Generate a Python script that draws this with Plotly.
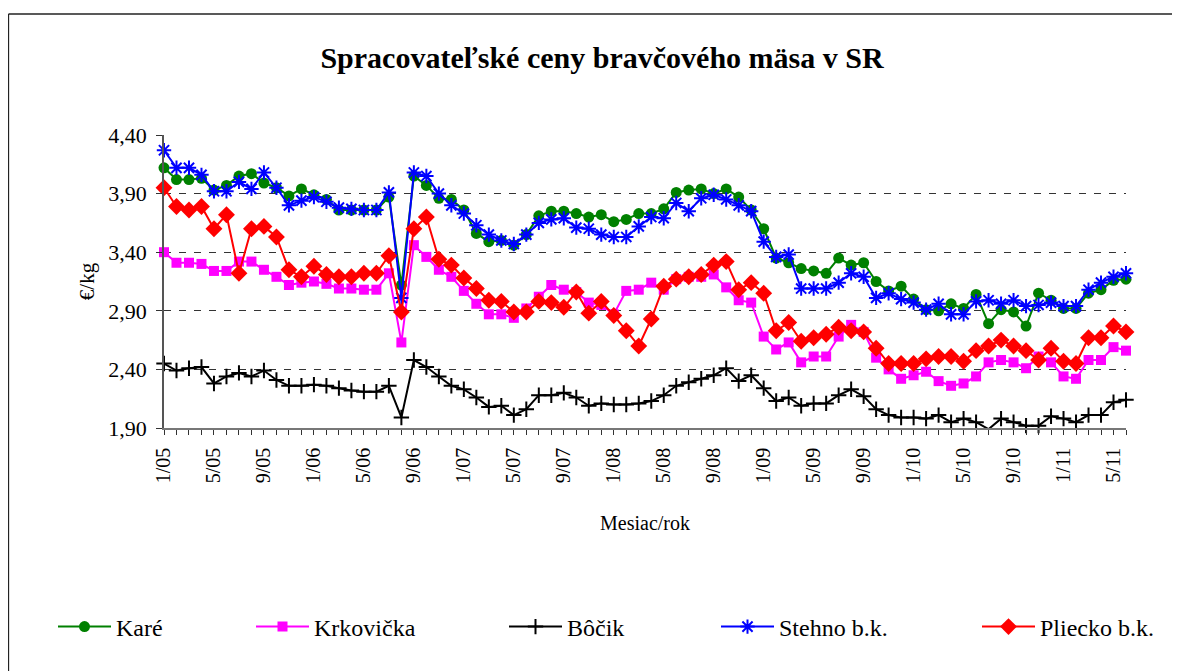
import plotly.graph_objects as go

# --- data -------------------------------------------------------------
years = ["05", "06", "07", "08", "09", "10", "11"]
months = [f"{m}/{y}" for y in years for m in range(1, 13)][:78]   # 1/05 .. 6/11

tick_labels = ["1/05", "5/05", "9/05", "1/06", "5/06", "9/06", "1/07", "5/07",
               "9/07", "1/08", "5/08", "9/08", "1/09", "5/09", "9/09", "1/10",
               "5/10", "9/10", "1/11", "5/11"]

kare = [4.12, 4.02, 4.02, 4.03, 3.93, 3.97, 4.05, 4.07, 3.99, 3.95, 3.88, 3.94,
        3.89, 3.85, 3.76, 3.76, 3.76, 3.76, 3.87, 3.12, 4.05, 3.97, 3.86, 3.85,
        3.76, 3.56, 3.49, 3.50, 3.46, 3.55, 3.71, 3.75, 3.75, 3.73, 3.70, 3.72,
        3.66, 3.68, 3.73, 3.73, 3.77, 3.91, 3.93, 3.94, 3.90, 3.94, 3.87, 3.76,
        3.60, 3.35, 3.31, 3.26, 3.24, 3.22, 3.35, 3.29, 3.31, 3.15, 3.07, 3.11,
        3.00, 2.91, 2.90, 2.96, 2.92, 3.04, 2.79, 2.91, 2.89, 2.77, 3.05, 2.99,
        2.92, 2.92, 3.05, 3.08, 3.16, 3.17]

krkovicka = [3.40, 3.31, 3.31, 3.30, 3.24, 3.24, 3.32, 3.32, 3.25, 3.19, 3.12, 3.14,
             3.15, 3.13, 3.09, 3.09, 3.08, 3.08, 3.22, 2.63, 3.46, 3.36, 3.25, 3.19,
             3.07, 2.96, 2.87, 2.87, 2.84, 2.92, 3.02, 3.12, 3.08, 3.06, 2.97, 2.95,
             2.87, 3.07, 3.08, 3.14, 3.08, 3.17, 3.19, 3.19, 3.21, 3.10, 2.99, 2.97,
             2.68, 2.57, 2.63, 2.46, 2.51, 2.51, 2.68, 2.78, 2.72, 2.50, 2.40, 2.32,
             2.35, 2.38, 2.30, 2.26, 2.28, 2.34, 2.46, 2.48, 2.46, 2.41, 2.51, 2.46,
             2.34, 2.32, 2.48, 2.48, 2.59, 2.56]

bocik = [2.45, 2.39, 2.41, 2.42, 2.28, 2.34, 2.37, 2.34, 2.39, 2.31, 2.26, 2.26,
         2.27, 2.26, 2.24, 2.22, 2.21, 2.21, 2.26, 1.99, 2.48, 2.42, 2.34, 2.26,
         2.23, 2.16, 2.08, 2.09, 2.01, 2.06, 2.18, 2.18, 2.20, 2.16, 2.09, 2.11,
         2.10, 2.10, 2.11, 2.13, 2.18, 2.26, 2.29, 2.32, 2.35, 2.41, 2.30, 2.35,
         2.24, 2.13, 2.16, 2.09, 2.11, 2.11, 2.18, 2.23, 2.17, 2.06, 2.01, 1.99,
         1.99, 1.98, 2.01, 1.95, 1.98, 1.95, 1.89, 1.98, 1.95, 1.92, 1.92, 2.00,
         1.98, 1.95, 2.01, 2.01, 2.12, 2.14]

stehno = [4.27, 4.12, 4.12, 4.06, 3.92, 3.92, 4.00, 3.94, 4.08, 3.95, 3.80, 3.84,
          3.87, 3.83, 3.78, 3.77, 3.76, 3.76, 3.91, 3.01, 4.08, 4.05, 3.90, 3.80,
          3.73, 3.63, 3.55, 3.50, 3.47, 3.55, 3.65, 3.68, 3.69, 3.61, 3.60, 3.55,
          3.53, 3.53, 3.62, 3.70, 3.69, 3.82, 3.75, 3.86, 3.89, 3.85, 3.80, 3.75,
          3.49, 3.36, 3.38, 3.09, 3.09, 3.09, 3.14, 3.22, 3.19, 3.01, 3.05, 3.00,
          2.97, 2.91, 2.96, 2.87, 2.87, 2.98, 2.99, 2.96, 2.99, 2.94, 2.95, 2.97,
          2.94, 2.94, 3.08, 3.14, 3.19, 3.22]

pliecko = [3.95, 3.79, 3.76, 3.79, 3.60, 3.72, 3.22, 3.60, 3.62, 3.53, 3.25, 3.19,
           3.28, 3.21, 3.19, 3.19, 3.22, 3.22, 3.37, 2.89, 3.60, 3.70, 3.34, 3.29,
           3.18, 3.09, 2.99, 2.98, 2.89, 2.89, 2.98, 2.97, 2.93, 3.06, 2.88, 2.98,
           2.86, 2.73, 2.60, 2.83, 3.11, 3.17, 3.19, 3.21, 3.29, 3.32, 3.08, 3.14,
           3.05, 2.73, 2.80, 2.64, 2.67, 2.70, 2.76, 2.73, 2.72, 2.58, 2.45, 2.45,
           2.45, 2.49, 2.51, 2.51, 2.47, 2.56, 2.60, 2.65, 2.60, 2.56, 2.48, 2.58,
           2.47, 2.45, 2.67, 2.67, 2.77, 2.72]

series = [
    ("Karé", kare, "#008000", dict(symbol="circle", size=11)),
    ("Krkovička", krkovicka, "#FF00FF", dict(symbol="square", size=10)),
    ("Bôčik", bocik, "#000000", dict(symbol="cross-thin-open", size=11,
                                     line=dict(width=2, color="#000000"))),
    ("Stehno b.k.", stehno, "#0000FF", dict(symbol="asterisk-open", size=12,
                                           line=dict(width=2, color="#0000FF"))),
    ("Pliecko b.k.", pliecko, "#FF0000", dict(symbol="diamond", size=13)),
]

# --- layout constants ---------------------------------------------------
# the page body has an 8px margin, so the figure is laid out 8px smaller
OFF = 8
W, H = 1180 - OFF, 671 - OFF
PL, PT, PW, PH = 164, 135, 962, 293          # plot area in screen pixels
L, T = PL - OFF, PT - OFF
R, B = W - L - PW, H - T - PH
FONT = "Liberation Serif, Times New Roman, serif"


def px_to_paper_x(px):      # screen px -> paper
    return (px - PL) / PW


def px_to_paper_y(py):
    return (PT + PH - py) / PH


legend_line_end = [114, 312, 565, 777, 1038]

fig = go.Figure()
for k, (name, vals, color, mk) in enumerate(series):
    mk = dict(mk)
    mk["color"] = color
    fig.add_trace(go.Scatter(
        x=months, y=vals, name=name, mode="lines+markers",
        line=dict(color=color, width=2), marker=mk, cliponaxis=False,
        legend="legend" if k == 0 else f"legend{k + 1}",
    ))

ticktext = [m if m in tick_labels else "" for m in months]

fig.update_layout(
    width=W, height=H, showlegend=True,
    margin=dict(l=L, r=R, t=T, b=B, autoexpand=False),
    paper_bgcolor="white", plot_bgcolor="white",
    separators=", ",
    font=dict(family=FONT, size=20, color="black"),
    title=dict(text="Spracovateľské ceny bravčového mäsa v SR",
               x=(602 - OFF) / W, xanchor="center",
               y=1 - (57 - OFF) / H, yanchor="middle",
               font=dict(family=FONT, size=30, color="black", weight="bold")),
    xaxis=dict(type="category", range=[0, len(months) - 1],
               tickmode="array", tickvals=months, ticktext=ticktext,
               tickangle=-90, ticks="outside", ticklen=5, tickwidth=1.3,
               tickcolor="#333", ticklabelstandoff=5,
               showline=True, linecolor="#777", linewidth=1.6,
               showgrid=False, zeroline=False,
               tickfont=dict(family=FONT, size=20),
               title=dict(text="Mesiac/rok", standoff=34,
                          font=dict(family=FONT, size=20))),
    yaxis=dict(range=[1.90, 4.40], tickmode="linear", tick0=1.90, dtick=0.5,
               tickformat=".2f", ticks="outside", ticklen=6, tickwidth=1.3,
               tickcolor="#333", ticklabelstandoff=5,
               showline=True, linecolor="#555", linewidth=1.6,
               showgrid=True, gridcolor="#333333", gridwidth=1,
               griddash="7px,8px", zeroline=False,
               tickfont=dict(family=FONT, size=22),
               title=dict(text="€/kg", standoff=8,
                          font=dict(family=FONT, size=21))),
    xaxis2=dict(overlaying="x", anchor="y", range=[0, len(months) - 1],
                tickmode="linear", tick0=0, dtick=1, ticks="inside", ticklen=5,
                tickwidth=1.3, tickcolor="#333", showticklabels=False,
                showgrid=False, showline=False, zeroline=False),
    yaxis2=dict(overlaying="y", anchor="x", side="left", range=[1.90, 4.40],
                tickmode="linear", tick0=1.90, dtick=0.5, ticks="inside",
                ticklen=6, tickwidth=1.3, tickcolor="#333",
                showticklabels=False, showgrid=False, showline=False,
                zeroline=False),
    shapes=[
        dict(type="line", xref="paper", yref="paper",
             x0=px_to_paper_x(8.5), x1=px_to_paper_x(1200),
             y0=px_to_paper_y(14), y1=px_to_paper_y(14),
             line=dict(color="#222", width=1.3)),
        dict(type="line", xref="paper", yref="paper",
             x0=px_to_paper_x(8.5), x1=px_to_paper_x(8.5),
             y0=px_to_paper_y(14), y1=px_to_paper_y(700),
             line=dict(color="#222", width=1.3)),
    ],
)

for k, end in enumerate(legend_line_end):
    key = "legend" if k == 0 else f"legend{k + 1}"
    fig.update_layout({key: dict(
        x=px_to_paper_x(end - 53 - 8), xanchor="left",
        y=px_to_paper_y(627), yanchor="middle",
        orientation="h", itemwidth=53, bgcolor="rgba(0,0,0,0)",
        font=dict(family=FONT, size=24, color="black"),
    )})

fig.write_html("out.html")
